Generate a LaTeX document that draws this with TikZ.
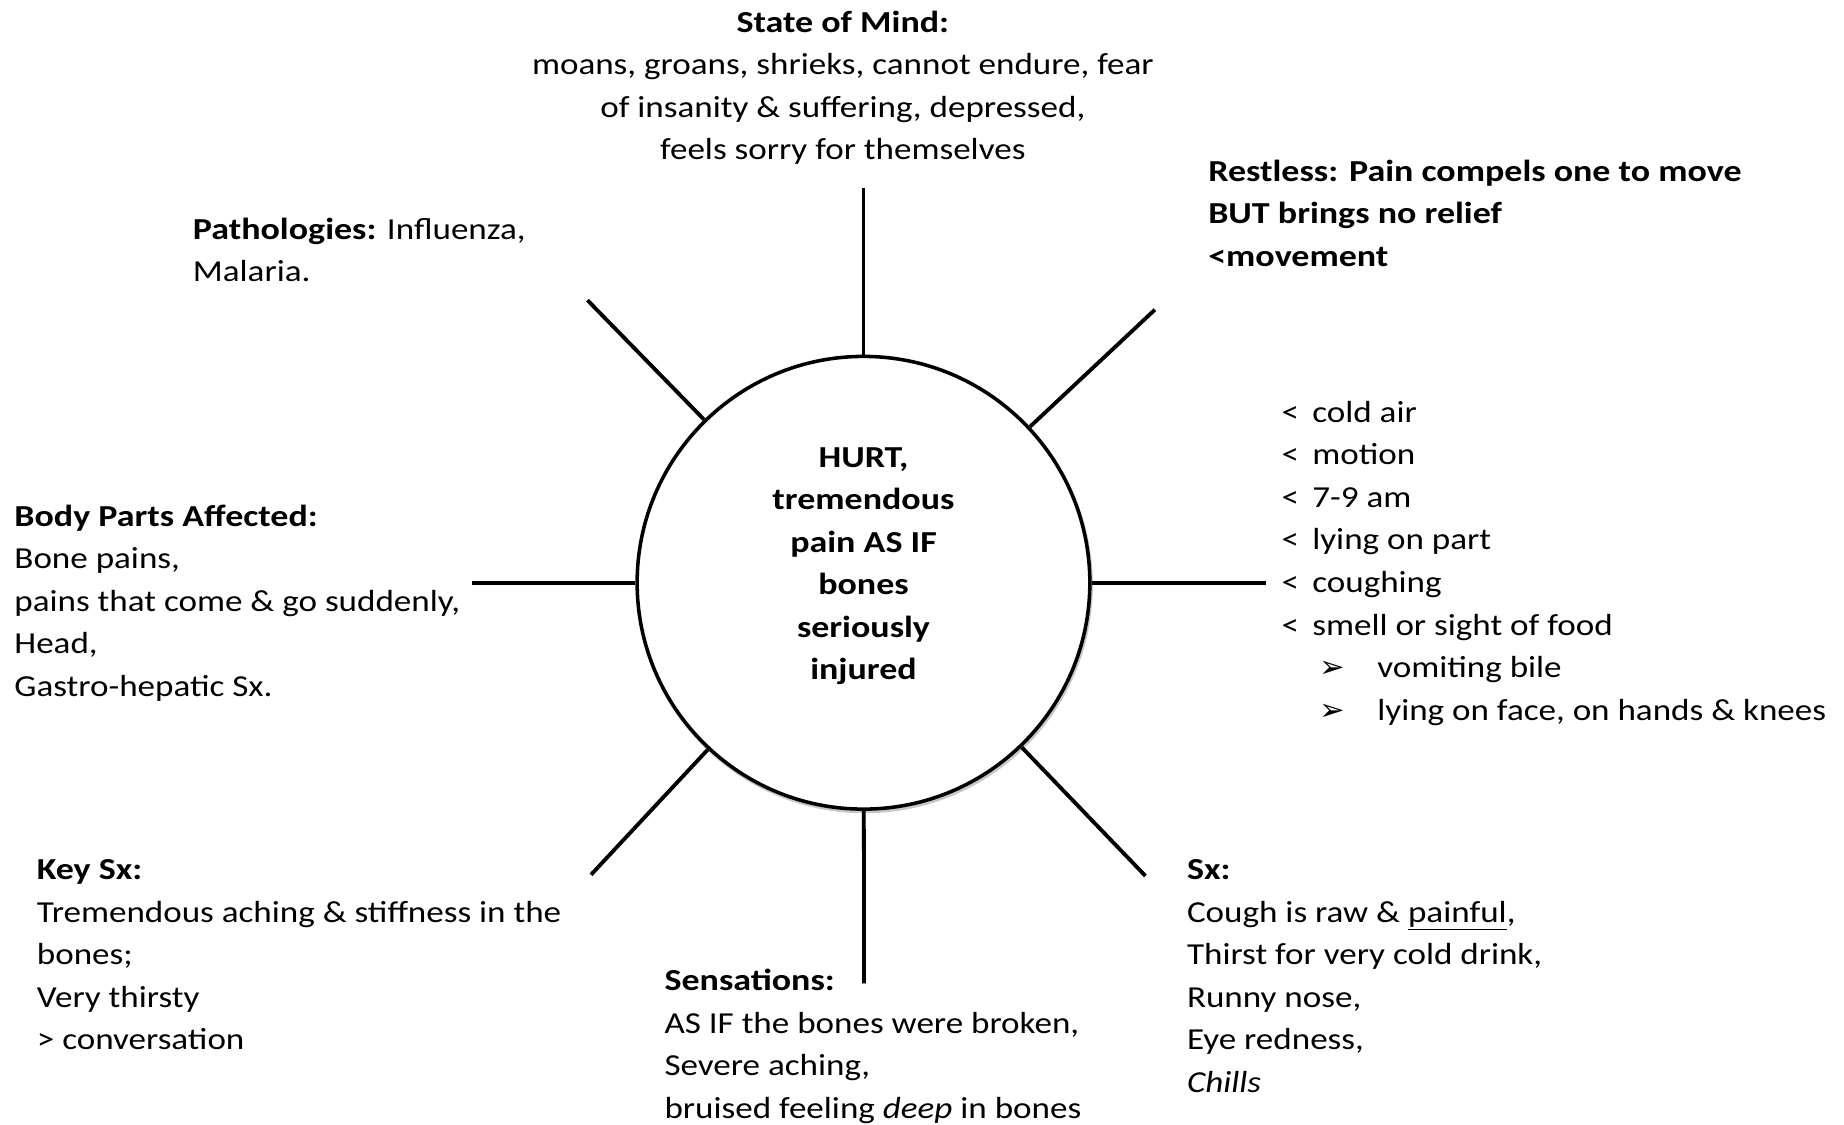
\documentclass[tikz,border=0pt]{standalone}
\usepackage{fontspec}
\setmainfont{Carlito}[UprightFeatures={FakeStretch=1.15},
  BoldFeatures={FakeStretch=1.18},
  ItalicFeatures={FakeStretch=1.15}]
\newfontfamily\dingfont{DejaVu Sans}
\newcommand\bodyfont{\fontsize{25.8}{36}\selectfont}
\newcommand\lt{\makebox[26pt][l]{<}}
\newcommand\subarr{\hspace*{32pt}\makebox[49pt][l]{\dingfont\fontsize{26}{36}\selectfont ➢}}
\begin{document}
\begin{tikzpicture}[x=1pt,y=1pt,
  txt/.style={inner sep=0pt, anchor=north west, align=left, font=\bodyfont},
  ctxt/.style={inner sep=0pt, anchor=north, align=center, font=\bodyfont},
  spoke/.style={line width=3.2pt, draw=black},
  spokeshadow/.style={line width=3.2pt, draw=black!22},
  hub/.style={circle, draw=black, line width=3pt, minimum size=383pt, inner sep=0pt, fill=white}]
\useasboundingbox (0,0) rectangle (1560,-951);

% hub
\node[hub, draw=black!22] (cs) at (731.5,-495) {};
\node[hub] (c) at (730.5,-493) {};

% spoke ends
\coordinate (eN) at (730.5,-159);
\coordinate (eNE) at (977,-262);
\coordinate (eE) at (1071,-493);
\coordinate (eSE) at (969,-741);
\coordinate (eS) at (731,-832);
\coordinate (eSW) at (500,-740);
\coordinate (eW) at (399,-493);
\coordinate (eNW) at (497,-254);

% shadows
\foreach \e in {eN,eNE,eE,eSE,eS,eSW,eW,eNW}{
  \draw[spokeshadow, shift={(1.2,-2.2)}] (c) -- (\e);
}
% spokes
\foreach \e in {eN,eNE,eE,eSE,eS,eSW,eW,eNW}{
  \draw[spoke] (c) -- (\e);
}

% centre text
\node[ctxt, font=\bodyfont\bfseries] (hurt) at (730.5,-369.8)
  {\strut HURT,\\ tremendous\\ pain AS IF\\ bones\\ seriously\\ injured};

% blocks
\node[ctxt] (mind) at (713,-1.8)
  {\strut\textbf{State of Mind:}\\
   moans, groans, shrieks, cannot endure, fear\\
   of insanity \& suffering, depressed,\\
   feels sorry for themselves};

\node[txt, font=\bodyfont\bfseries] (restless) at (1022,-127.8)
  {\strut Restless: Pain compels one to move\\
   BUT brings no relief\\
   <movement};

\node[txt] (patho) at (163,-176.8)
  {\strut\textbf{Pathologies:} Influenza,\\ Malaria.};

\node[txt] (modal) at (1084,-331.8)
  {\strut\lt cold air\\
   \lt motion\\
   \lt 7-9 am\\
   \lt lying on part\\
   \lt coughing\\
   \lt smell or sight of food\\
   \subarr vomiting bile\\
   \subarr lying on face, on hands \& knees};

\node[txt] (body) at (12,-419.8)
  {\strut\textbf{Body Parts Affected:}\\
   Bone pains,\\
   pains that come \& go suddenly,\\
   Head,\\
   Gastro-hepatic Sx.};

\node[txt] (keysx) at (31,-718.8)
  {\strut\textbf{Key Sx:}\\
   Tremendous aching \& stiffness in the\\
   bones;\\
   Very thirsty\\
   > conversation};

\node[txt] (sens) at (562,-812.8)
  {\strut\textbf{Sensations:}\\
   AS IF the bones were broken,\\
   Severe aching,\\
   bruised feeling \textit{deep} in bones};

\node[txt] (sx) at (1004,-718.8)
  {\strut\textbf{Sx:}\\
   Cough is raw \& \underline{painful},\\
   Thirst for very cold drink,\\
   Runny nose,\\
   Eye redness,\\
   \textit{Chills}};
\end{tikzpicture}
\end{document}
